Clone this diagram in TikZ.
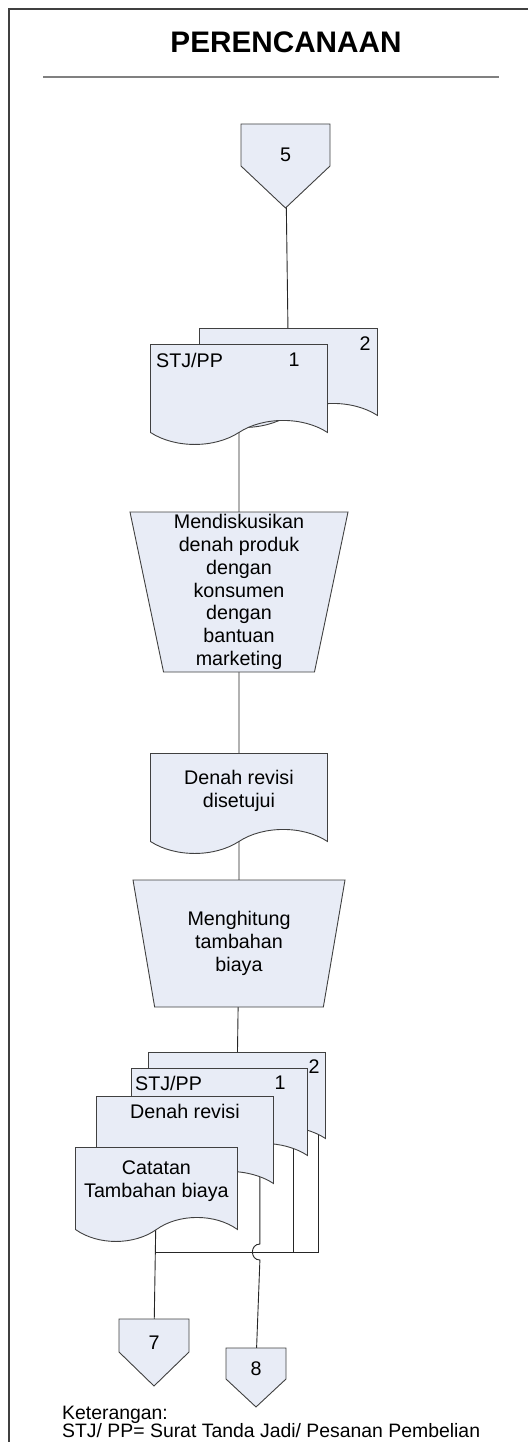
\documentclass[tikz,border=0pt]{standalone}
\usepackage{fontspec}
\setmainfont{Liberation Sans}
\usepackage{tikz}
\usetikzlibrary{shapes.geometric,shapes.symbols,calc,backgrounds}

\definecolor{shapefill}{RGB}{232,236,246}
\definecolor{shapeline}{RGB}{64,64,64}

\tikzset{
  txt/.style={font=\fontsize{19.7}{22.8}\selectfont, inner sep=0pt, align=center},
  box/.style={draw=shapeline, fill=shapefill, line width=0.9pt, inner sep=0pt},
  doc/.style={box, tape, tape bend top=none, tape bend bottom=in and out,
    tape bend height=24pt, anchor=north west},
  manual/.style={box, txt, trapezium, shape border rotate=180,
    trapezium stretches=true, trapezium stretches body=true},
  offpage/.style={box, signal, signal to=south},
  flow/.style={draw=black!85, line width=0.9pt},
}

\begin{document}
\begin{tikzpicture}[x=1pt,y=-1pt]
  \useasboundingbox (0,0) rectangle (528,1442);
  % frame and heading
  \draw[shapeline, line width=1.3pt] (9,1442) -- (9,9) -- (528,9);
  \node[font=\fontsize{29.7}{34}\selectfont\bfseries, inner sep=0pt] (title) at (286,42) {PERENCANAAN};
  \draw[black!50, line width=1.5pt] (43,77) -- (499,77);

  \node[offpage, signal pointer angle=93.3, minimum width=89, minimum height=42,
    label={[txt, name=c5no, yshift=-10pt]center:5}] (c5) at (285.5,145) {};

  % STJ/PP copies
  \node[doc, minimum width=178, minimum height=99] (top2) at (199,328) {};
  \node[doc, minimum width=177, minimum height=100] (top1) at (150,344) {};
  \node[txt] (top2no) at ($(top2.north west)+(166,16)$) {2};
  \node[txt, anchor=west] (top1id) at ($(top1.north west)+(6,16)$) {STJ/PP};
  \node[txt] (top1no) at ($(top1.north west)+(144,16)$) {1};

  \node[manual, trapezium left angle=77.8, trapezium right angle=77.8,
    minimum width=218, minimum height=160] (man1) at (239,592)
    {Mendiskusikan\\denah produk\\dengan\\konsumen\\dengan\\bantuan\\marketing};

  \node[doc, minimum width=177, minimum height=100] (rev) at (150,753) {};
  \node[txt] (revtxt) at ($(rev.north)+(0,38)$) {Denah revisi\\disetujui};

  \node[manual, trapezium left angle=71.3, trapezium right angle=71.3,
    minimum width=212, minimum height=127] (man2) at (239,943.5)
    {Menghitung\\tambahan\\biaya};

  % output documents
  \node[doc, minimum width=177, minimum height=98] (stA) at (148,1052) {};
  \node[doc, minimum width=176, minimum height=99] (stB) at (131,1068) {};
  \node[doc, minimum width=177, minimum height=99] (stC) at (96,1096) {};
  \node[doc, minimum width=162, minimum height=94] (stD) at (75,1147) {};
  \node[txt] (stAno) at ($(stA.north west)+(166,15)$) {2};
  \node[txt, anchor=west] (stBid) at ($(stB.north west)+(4,15)$) {STJ/PP};
  \node[txt] (stBno) at ($(stB.north west)+(149,15)$) {1};
  \node[txt] (stCtxt) at ($(stC.north)+(0,15)$) {Denah revisi};
  \node[txt] (stDtxt) at ($(stD.north)+(0,34)$) {Catatan\\Tambahan biaya};

  \node[offpage, signal pointer angle=91.7, minimum width=70, minimum height=33,
    label={[txt, name=c7no, yshift=-7.5pt]center:7}] (c7) at (154,1335.5) {};
  \node[offpage, signal pointer angle=94, minimum width=60, minimum height=31,
    label={[txt, name=c8no, yshift=-5.5pt]center:8}] (c8) at (256,1363.5) {};

  \node[font=\fontsize{19.4}{18}\selectfont, inner sep=0pt, anchor=base west] (ket) at (62,1419) {Keterangan:};
  \node[font=\fontsize{19.4}{18}\selectfont, inner sep=0pt, anchor=base west] (ketdef) at (62,1437) {STJ/ PP= Surat Tanda Jadi/ Pesanan Pembelian};

  \begin{scope}[on background layer]
    \draw[flow] (c5.center) -- (top2.center);
    \draw[flow] (top1.center) -- (man1.center);
    \draw[flow] (man1.center) -- (rev.center);
    \draw[flow] (rev.center) -- (man2.center);
    \draw[flow] (man2.center) -- (stA.center);
    \coordinate (bus) at (156,1252);
    \draw[flow] (stD.center) -- (c7.center);
    \draw[flow] ([xshift=-7pt]stA.east) |- (bus);
    \draw[flow] ([xshift=-14pt]stB.east) -- ([xshift=-14pt]stB.east |- bus);
    \draw[flow] ([xshift=-14pt]stC.east) coordinate (hop)
      -- ($(hop |- bus)+(0,-8)$) .. controls +(-10,0) and +(-10,0) .. ($(hop |- bus)+(0,8)$)
      -- (c8.center);
  \end{scope}
\end{tikzpicture}
\end{document}
